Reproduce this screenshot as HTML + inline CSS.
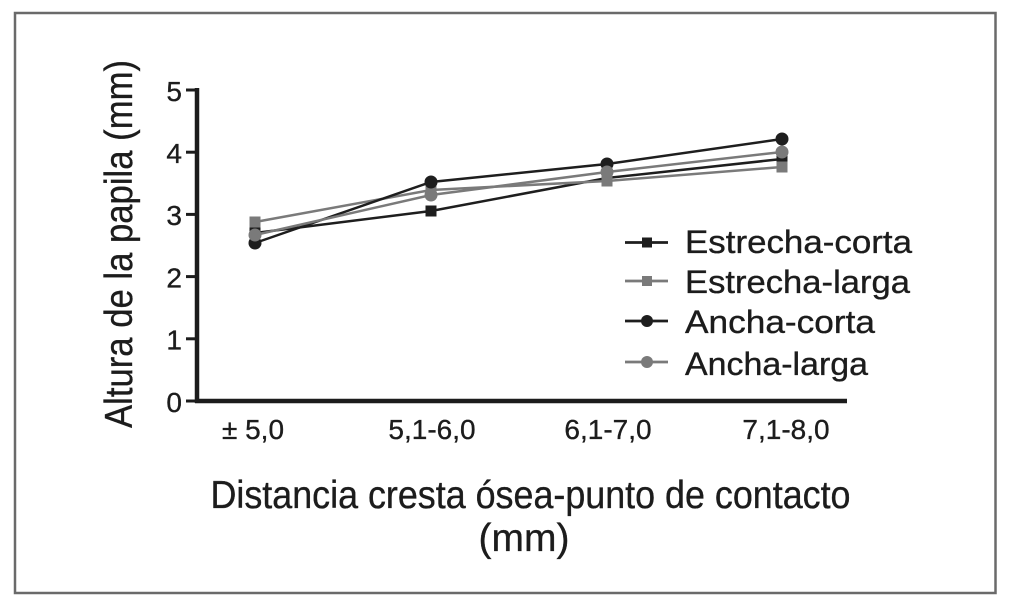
<!DOCTYPE html>
<html><head><meta charset="utf-8"><style>
html,body{margin:0;padding:0;background:#fff;}
svg{display:block;}
text{font-family:"Liberation Sans",Arial,sans-serif;fill:#1c1c1c;stroke:#1c1c1c;stroke-width:0.35;}
</style></head><body>
<svg width="1020" height="608" viewBox="0 0 1020 608" xmlns="http://www.w3.org/2000/svg">
<rect x="0" y="0" width="1020" height="608" fill="#fff"/>
<rect x="15" y="13" width="980.5" height="580" fill="none" stroke="#6a6a6a" stroke-width="2.5"/>

<!-- axes -->
<line x1="197" y1="88" x2="197" y2="403" stroke="#1c1c1c" stroke-width="4.5"/>
<line x1="195" y1="401" x2="847" y2="401" stroke="#1c1c1c" stroke-width="4.5"/>
<g stroke="#1c1c1c" stroke-width="3">
<line x1="186" y1="90" x2="197" y2="90"/>
<line x1="186" y1="152.2" x2="197" y2="152.2"/>
<line x1="186" y1="214.4" x2="197" y2="214.4"/>
<line x1="186" y1="276.6" x2="197" y2="276.6"/>
<line x1="186" y1="338.8" x2="197" y2="338.8"/>
<line x1="186" y1="401" x2="197" y2="401"/>
</g>
<g font-size="28" text-anchor="end">
<text x="182" y="101">5</text>
<text x="182" y="163">4</text>
<text x="182" y="225">3</text>
<text x="182" y="287.5">2</text>
<text x="182" y="349.5">1</text>
<text x="182" y="412">0</text>
</g>
<g font-size="28" text-anchor="middle">
<text x="253" y="439">± 5,0</text>
<text x="432" y="439">5,1-6,0</text>
<text x="608" y="439">6,1-7,0</text>
<text x="786" y="439">7,1-8,0</text>
</g>

<text x="210.5" y="508" font-size="39" textLength="640" lengthAdjust="spacingAndGlyphs">Distancia cresta ósea-punto de contacto</text>
<text x="524" y="551" font-size="39" text-anchor="middle">(mm)</text>
<text transform="translate(132,244) rotate(-90)" x="-184" y="0" font-size="39" textLength="368" lengthAdjust="spacingAndGlyphs">Altura de la papila (mm)</text>

<!-- series -->
<polyline points="255,233 431,211 607,178 782,159" fill="none" stroke="#1e1e1e" stroke-width="2.5"/>
<g fill="#1e1e1e">
<rect x="249.5" y="227.5" width="11" height="11"/>
<rect x="425.5" y="205.5" width="11" height="11"/>
<rect x="601.5" y="172.5" width="11" height="11"/>
<rect x="776.5" y="153.5" width="11" height="11"/>
</g>
<polyline points="255,222 431,190 607,181 782,167" fill="none" stroke="#7a7a7a" stroke-width="2.5"/>
<g fill="#7a7a7a">
<rect x="249.5" y="216.5" width="11" height="11"/>
<rect x="425.5" y="184.5" width="11" height="11"/>
<rect x="601.5" y="175.5" width="11" height="11"/>
<rect x="776.5" y="161.5" width="11" height="11"/>
</g>
<polyline points="255,243 431,182 607,164 782,139" fill="none" stroke="#1e1e1e" stroke-width="2.5"/>
<g fill="#1e1e1e">
<circle cx="255" cy="243" r="6.5"/>
<circle cx="431" cy="182" r="6.5"/>
<circle cx="607" cy="164" r="6.5"/>
<circle cx="782" cy="139" r="6.5"/>
</g>
<polyline points="255,235 431,195 607,172 782,152" fill="none" stroke="#7a7a7a" stroke-width="2.5"/>
<g fill="#7a7a7a">
<circle cx="255" cy="235" r="6.5"/>
<circle cx="431" cy="195" r="6.5"/>
<circle cx="607" cy="172" r="6.5"/>
<circle cx="782" cy="152" r="6.5"/>
</g>

<!-- legend -->
<line x1="625" y1="242.5" x2="668" y2="242.5" stroke="#1e1e1e" stroke-width="2.7"/>
<rect x="642" y="237.5" width="10" height="10" fill="#1e1e1e"/>
<line x1="625" y1="281" x2="668" y2="281" stroke="#7a7a7a" stroke-width="2.7"/>
<rect x="642" y="276" width="10" height="10" fill="#7a7a7a"/>
<line x1="625" y1="321" x2="668" y2="321" stroke="#1e1e1e" stroke-width="2.7"/>
<circle cx="647" cy="321" r="6" fill="#1e1e1e"/>
<line x1="625" y1="362" x2="668" y2="362" stroke="#7a7a7a" stroke-width="2.7"/>
<circle cx="647" cy="362" r="6" fill="#7a7a7a"/>
<g font-size="32">
<text x="685" y="253" textLength="227" lengthAdjust="spacingAndGlyphs">Estrecha-corta</text>
<text x="685" y="293" textLength="225" lengthAdjust="spacingAndGlyphs">Estrecha-larga</text>
<text x="685" y="333" textLength="190" lengthAdjust="spacingAndGlyphs">Ancha-corta</text>
<text x="685" y="375" textLength="183" lengthAdjust="spacingAndGlyphs">Ancha-larga</text>
</g>
</svg>
</body></html>
